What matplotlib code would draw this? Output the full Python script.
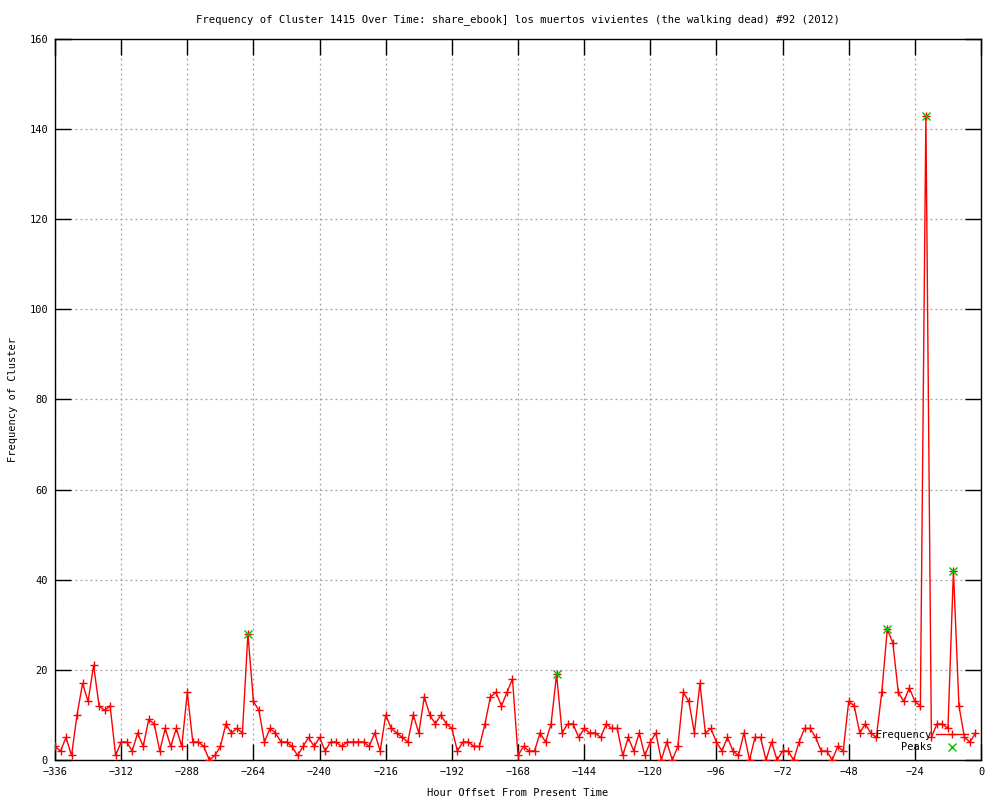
import numpy as np
import matplotlib
matplotlib.use("Agg")
import matplotlib.pyplot as plt

# Hour offsets (every 2 hours) and frequencies
hours = list(range(-336, 0, 2))
freq = [3, 2, 5, 1, 10, 17, 13, 21, 12, 11, 12, 1, 4, 4, 2, 6, 3, 9, 8, 2,
        7, 3, 7, 3, 15, 4, 4, 3, 0, 1, 3, 8, 6, 7, 6, 28, 13, 11, 4, 7,
        6, 4, 4, 3, 1, 3, 5, 3, 5, 2, 4, 4, 3, 4, 4, 4, 4, 3, 6, 2,
        10, 7, 6, 5, 4, 10, 6, 14, 10, 8, 10, 8, 7, 2, 4, 4, 3, 3, 8, 14,
        15, 12, 15, 18, 1, 3, 2, 2, 6, 4, 8, 19, 6, 8, 8, 5, 7, 6, 6, 5,
        8, 7, 7, 1, 5, 2, 6, 1, 4, 6, 0, 4, 0, 3, 15, 13, 6, 17, 6, 7,
        4, 2, 5, 2, 1, 6, 0, 5, 5, 0, 4, 0, 2, 2, 0, 4, 7, 7, 5, 2,
        2, 0, 3, 2, 13, 12, 6, 8, 6, 5, 15, 29, 26, 15, 13, 16, 13, 12, 143, 5,
        8, 8, 7, 42, 12, 5, 4, 6]

peak_hours = [-266, -154, -34, -20, -10]
peak_vals = [28, 19, 29, 143, 42]

x_ticks = list(range(-336, 1, 24))
y_ticks = list(range(0, 161, 20))

title = "Frequency of Cluster 1415 Over Time: share_ebook] los muertos vivientes (the walking dead) #92 (2012)"

plt.rcParams['font.family'] = ['DejaVu Sans Mono']
fig = plt.figure(figsize=(10, 8), dpi=100)
ax = fig.add_axes([0.055, 0.05, 0.926, 0.90125])

ax.plot(hours, freq, color='red', linewidth=1, marker='+', markersize=5.5,
        markeredgewidth=1, label='Frequency', zorder=3)
ax.plot(peak_hours, peak_vals, linestyle='none', marker='x', color='#00c000',
        markersize=5.5, markeredgewidth=1, label='Peaks', zorder=4)

ax.set_xlim(-336, 0)
ax.set_ylim(0, 160)
ax.set_xticks(x_ticks)
ax.set_yticks(y_ticks)
ax.tick_params(direction='in', length=11.5, width=1, top=True, right=True,
               labelsize=7.5, pad=5, colors='black')
ax.grid(True, color='#a0a0a0', linestyle=(0, (1.5, 2.5)), linewidth=0.9)
ax.set_axisbelow(True)
for s in ax.spines.values():
    s.set_linewidth(1)
    s.set_color('black')

ax.set_title(title, fontsize=7.6, pad=12)
ax.set_xlabel("Hour Offset From Present Time", fontsize=7.5, labelpad=8)
ax.set_ylabel("Frequency of Cluster", fontsize=7.5, labelpad=8)

leg = ax.legend(loc='lower right', frameon=False,
                markerfirst=False, numpoints=1, fontsize=7.5,
                handlelength=3.0, handletextpad=0.4, labelspacing=0.2,
                borderaxespad=0, bbox_to_anchor=(0.990, 0.005))
for t in leg.get_texts():
    t.set_ha('right')

fig.savefig("out.png", dpi=100)
